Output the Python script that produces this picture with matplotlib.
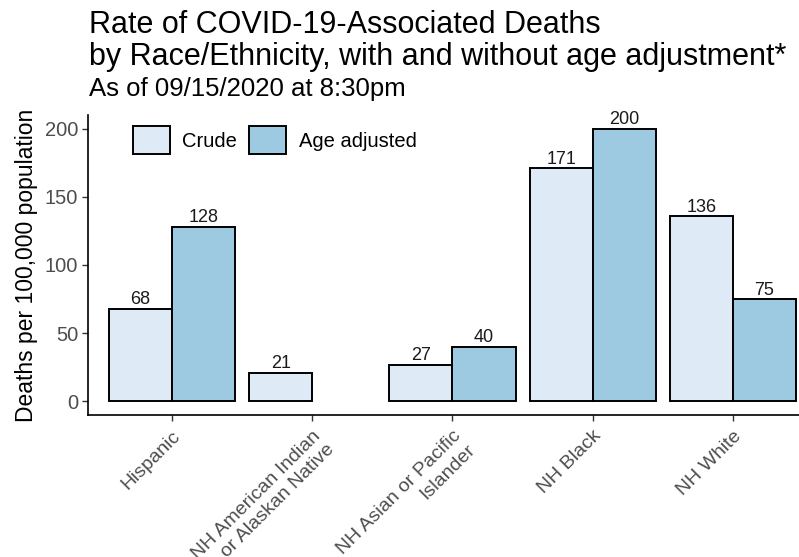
import numpy as np
import matplotlib
matplotlib.use("Agg")
import matplotlib.pyplot as plt
from matplotlib.patches import Patch

plt.rcParams["font.family"] = ["Liberation Sans", "DejaVu Sans"]

# data
groups = ["Hispanic", "NH American Indian\nor Alaskan Native",
          "NH Asian or Pacific\nIslander", "NH Black", "NH White"]
crude = [68, 21, 27, 171, 136]
age_adjusted = [128, np.nan, 40, 200, 75]
series_names = ["Crude", "Age adjusted"]
colors = ["#deebf7", "#9ecae1"]

fig = plt.figure(figsize=(7.99, 5.57), dpi=100)
ax = fig.add_axes([0.110, 0.255, 0.895, 0.5385])

x = np.arange(1, len(groups) + 1)
w = 0.45
for vals, off, col in [(crude, -w / 2, colors[0]), (age_adjusted, w / 2, colors[1])]:
    vals = np.array(vals, dtype=float)
    ok = ~np.isnan(vals)
    bars = ax.bar(x[ok] + off, vals[ok], width=w, color=col,
                  edgecolor="black", linewidth=1.4, zorder=2)
    for b, v in zip(bars, vals[ok]):
        ax.text(b.get_x() + b.get_width() / 2, v + 0.3, f"{v:.0f}",
                ha="center", va="bottom", fontsize=13, color="#1a1a1a")

ax.set_xlim(0.4, 5.5)
ax.set_ylim(-10, 210)
ax.set_xticks(x)
ax.set_xticklabels(groups, rotation=45, ha="right", rotation_mode="anchor",
                   multialignment="right", fontsize=14, color="#4d4d4d")
ax.set_yticks([0, 50, 100, 150, 200])
ax.tick_params(axis="y", labelsize=14.5, labelcolor="#4d4d4d", pad=3)
ax.tick_params(color="#333333", length=4, width=1)
ax.tick_params(axis="x", pad=5)

for s in ["top", "right"]:
    ax.spines[s].set_visible(False)
for s in ["left", "bottom"]:
    ax.spines[s].set_linewidth(1.2)
    ax.spines[s].set_color("black")

ax.set_ylabel("Deaths per 100,000 population", fontsize=16.5, color="black", labelpad=5)

handles = [Patch(facecolor=c, edgecolor="black", linewidth=1.4) for c in colors]
ax.legend(handles, series_names, loc="upper left", ncol=2, frameon=False,
          fontsize=14.5, bbox_to_anchor=(0.063, 0.962), handlelength=1.85,
          handleheight=1.7, handletextpad=0.6, columnspacing=0.6,
          borderaxespad=0, borderpad=0)

fig.text(0.112, 0.982,
         "Rate of COVID-19-Associated Deaths\nby Race/Ethnicity, with and without age adjustment*",
         fontsize=22, ha="left", va="top", linespacing=1.1)
fig.text(0.112, 0.862, "As of 09/15/2020 at 8:30pm", fontsize=18.5, ha="left", va="top")

fig.savefig("out.png", dpi=100)
